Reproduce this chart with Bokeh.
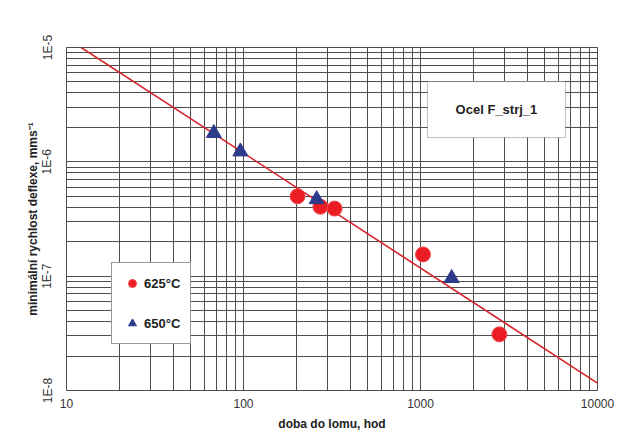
from bokeh.plotting import figure
from bokeh.models import (LogTicker, CustomJSTickFormatter, Legend, LegendItem,
                          BoxAnnotation, Label)
from bokeh.embed import file_html
from bokeh.resources import INLINE

# ---- data ----
t625 = [202, 272, 327, 1033, 2790]          # doba do lomu, hod
v625 = [5.0e-7, 4.05e-7, 3.9e-7, 1.55e-7, 3.1e-8]
t650 = [68, 96, 259, 1500]
v650 = [1.78e-6, 1.23e-6, 4.7e-7, 9.6e-8]
fit_t = [12.1, 10000]
fit_v = [1.0e-5, 1.16e-8]
x_ticks = [10, 100, 1000, 10000]
y_ticks = [1e-8, 1e-7, 1e-6, 1e-5]
legend_labels = ["625°C", "650°C"]
box_text = "Ocel F_strj_1"
x_title = "doba do lomu, hod"
y_title = "minimální rychlost deflexe, mms⁻¹"

FONT = "Liberation Sans"
GRID = "#4d4d4d"

p = figure(width=617, height=447, x_axis_type="log", y_axis_type="log",
           x_range=(x_ticks[0], x_ticks[-1]), y_range=(y_ticks[0], y_ticks[-1]),
           output_backend="svg", toolbar_location=None,
           min_border_left=66, min_border_right=20, min_border_top=47, min_border_bottom=57)
p.background_fill_color = "white"
p.border_fill_color = "white"
p.outline_line_color = GRID

for ax in (p.xaxis[0], p.yaxis[0]):
    ax.ticker = LogTicker(num_minor_ticks=10, desired_num_ticks=4)
    ax.major_tick_out = 0
    ax.major_tick_in = 0
    ax.minor_tick_out = 0
    ax.minor_tick_in = 0
    ax.axis_line_color = None
    ax.major_label_text_font = FONT
    ax.major_label_text_font_size = "12px"
    ax.major_label_text_color = "#333333"
    ax.axis_label_text_font = FONT
    ax.axis_label_text_font_size = "12px"
    ax.axis_label_text_font_style = "bold"
    ax.axis_label_text_color = "#222222"

p.xaxis.formatter = CustomJSTickFormatter(code="return String(Math.round(tick));")
p.yaxis.formatter = CustomJSTickFormatter(code="return '1E' + Math.round(Math.log10(tick));")
p.yaxis.major_label_orientation = "vertical"
p.xaxis.major_label_standoff = 8
p.yaxis.major_label_standoff = 12
p.xaxis.axis_label = x_title
p.yaxis.axis_label = y_title
p.xaxis.axis_label_standoff = 6
p.yaxis.axis_label_standoff = -2

for g in (p.xgrid[0], p.ygrid[0]):
    g.grid_line_color = GRID
    g.grid_line_width = 1
    g.minor_grid_line_color = GRID
    g.minor_grid_line_width = 1

p.line(fit_t, fit_v, line_color="#d8232a", line_width=1.6)
r1 = p.scatter(t625, v625, marker="circle", size=15, fill_color="#ec1c24", line_color="#f04a4f", line_width=1)
r2 = p.scatter(t650, v650, marker="triangle", size=15, fill_color="#2e3a8c", line_color="#2e3a8c")

legend = Legend(items=[LegendItem(label=legend_labels[0], renderers=[r1]),
                       LegendItem(label=legend_labels[1], renderers=[r2])],
                location=(45, 46), orientation="vertical",
                glyph_width=20, glyph_height=20, label_height=20, spacing=20,
                padding=10, margin=0, label_standoff=2,
                label_text_font=FONT, label_text_font_size="13px", label_text_font_style="bold",
                label_text_color="#222222",
                border_line_color="#333333", border_line_width=1,
                background_fill_color="white", background_fill_alpha=1)
p.add_layout(legend, "center")

box = BoxAnnotation(left=1095, right=6590, top=5.03e-6, bottom=1.63e-6,
                    fill_color="white", fill_alpha=1, line_color="#333333", line_width=1)
p.add_layout(box)
p.add_layout(Label(x=2686, y=2.86e-6, text=box_text, text_align="center", text_baseline="middle",
                   text_font=FONT, text_font_size="13px", text_font_style="bold", text_color="#222222"))

open("out.html", "w").write(file_html(p, INLINE))
